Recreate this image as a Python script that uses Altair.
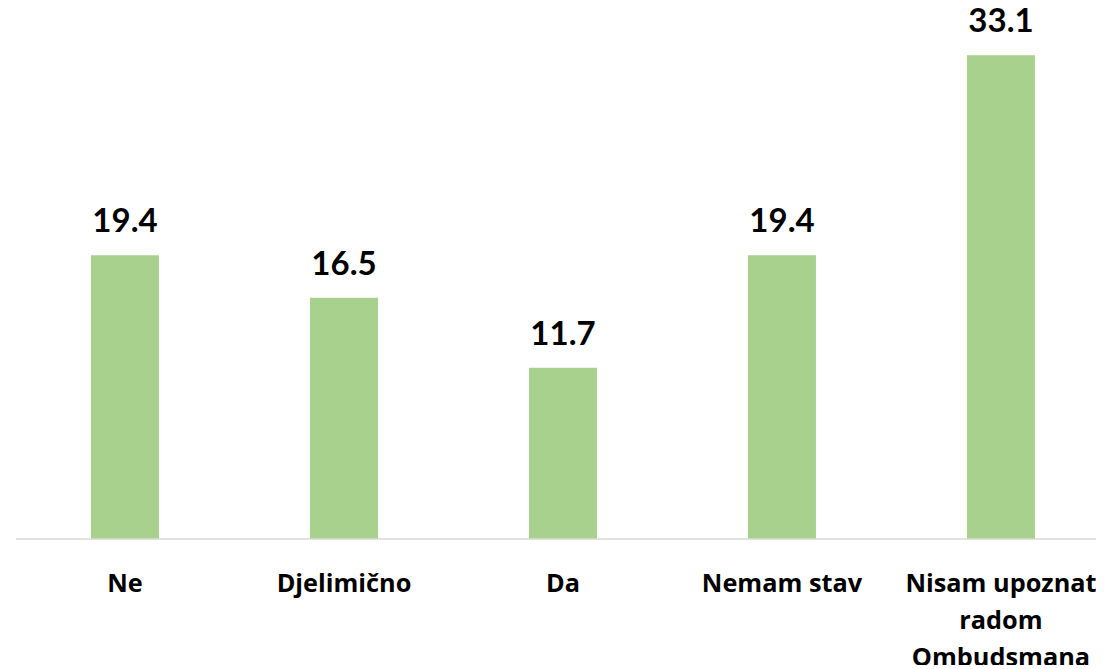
import altair as alt
import pandas as pd

categories = ["Ne", "Djelimično", "Da", "Nemam stav", "Nisam upoznat radom Ombudsmana"]
values = [19.4, 16.5, 11.7, 19.4, 33.1]

df = pd.DataFrame({"cat": categories, "val": values})

label_expr = ("datum.value == 'Nisam upoznat radom Ombudsmana' ? "
              "['Nisam upoznat', 'radom', 'Ombudsmana'] : datum.value")

xscale = alt.Scale(paddingInner=0.6895, paddingOuter=0.3105, align=0.555)
yscale = alt.Scale(domain=[0, 36], nice=False, zero=True)

x = alt.X("cat:N", sort=categories, title=None, scale=xscale,
          axis=alt.Axis(labelAngle=0, labelFont="Open Sans", labelFontSize=25.3, labelFontWeight="bold",
                        labelColor="#000000", labelPadding=33, ticks=False, tickSize=0, grid=False,
                        domainColor="#d9d9d9", domainWidth=1.5, labelExpr=label_expr,
                        labelLineHeight=37, labelBaseline="top", labelLimit=300))

bars = alt.Chart(df).mark_bar(color="#A9D18E").encode(
    x=x, y=alt.Y("val:Q", title=None, scale=yscale, axis=None))
text = alt.Chart(df).mark_text(font="Lato", fontSize=33, fontWeight="bold", color="#000000",
                               baseline="alphabetic", dy=-23).encode(
    x=alt.X("cat:N", sort=categories, scale=xscale),
    y=alt.Y("val:Q", scale=yscale, axis=None),
    text=alt.Text("val:Q", format=".1f"))

chart = (bars + text).properties(
    width=1080, height=525.5,
    background="white",
    autosize=alt.AutoSizeParams(type="none"),
    padding={"left": 7.5, "top": 5, "right": 0.5, "bottom": 126},
).configure_view(strokeWidth=0, stroke="transparent")

chart.save("out.html", embed_options={"renderer": "svg", "actions": False})
